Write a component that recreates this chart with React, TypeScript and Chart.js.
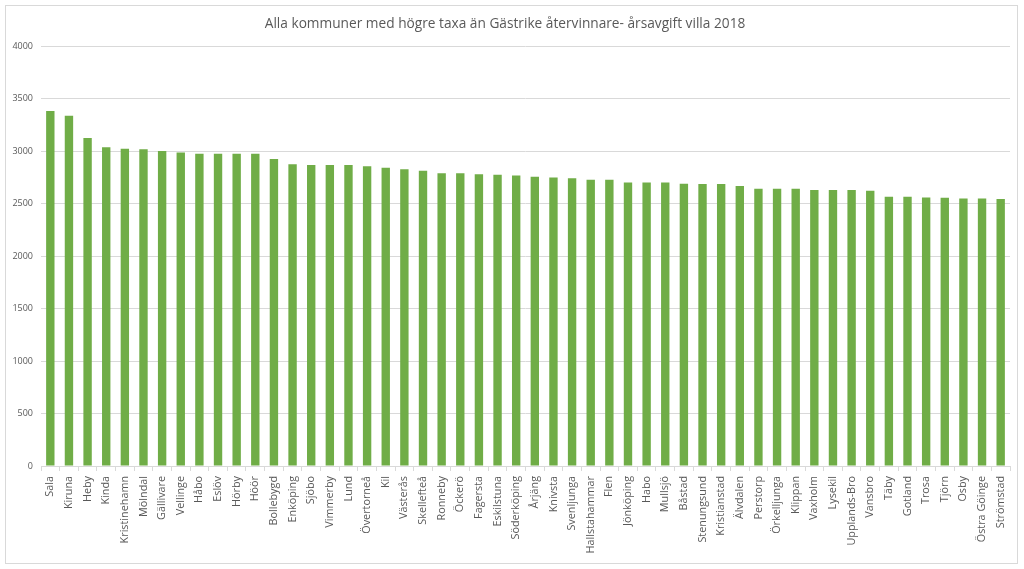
import React, { useEffect, useRef } from "react";
import { Chart, registerables } from "chart.js";

Chart.register(...registerables);

const categories: string[] = [
  "Sala", "Kiruna", "Heby", "Kinda", "Kristinehamn", "Mölndal", "Gällivare", "Vellinge",
  "Håbo", "Eslöv", "Hörby", "Höör", "Bollebygd", "Enköping", "Sjöbo", "Vimmerby", "Lund",
  "Övertorneå", "Kil", "Västerås", "Skellefteå", "Ronneby", "Öckerö", "Fagersta",
  "Eskilstuna", "Söderköping", "Årjäng", "Knivsta", "Svenljunga", "Hallstahammar", "Flen",
  "Jönköping", "Habo", "Mullsjö", "Båstad", "Stenungsund", "Kristianstad", "Älvdalen",
  "Perstorp", "Örkelljunga", "Klippan", "Vaxholm", "Lysekil", "Upplands-Bro", "Vansbro",
  "Täby", "Gotland", "Trosa", "Tjörn", "Osby", "Östra Göinge", "Strömstad",
];

const fees: number[] = [
  3385, 3340, 3127, 3038, 3025, 3019, 3003, 2990, 2978, 2978, 2978, 2978, 2927, 2876, 2870,
  2870, 2870, 2858, 2843, 2830, 2814, 2792, 2792, 2782, 2776, 2769, 2757, 2750, 2744, 2728,
  2728, 2702, 2702, 2702, 2690, 2688, 2688, 2669, 2644, 2644, 2644, 2631, 2631, 2631, 2625,
  2567, 2567, 2561, 2558, 2551, 2551, 2545,
];

const yTicks: number[] = [0, 500, 1000, 1500, 2000, 2500, 3000, 3500, 4000];

const title = "Alla kommuner med högre taxa än Gästrike återvinnare- årsavgift villa 2018";

export default function App() {
  const ref = useRef<HTMLCanvasElement | null>(null);

  useEffect(() => {
    if (!ref.current) return;
    const chart = new Chart(ref.current, {
      type: "bar",
      data: {
        labels: categories,
        datasets: [
          {
            label: "Årsavgift",
            data: fees,
            backgroundColor: "#70AD47",
            borderWidth: 0,
            categoryPercentage: 1,
            barPercentage: 0.45,
          },
        ],
      },
      options: {
        responsive: false,
        animation: false,
        devicePixelRatio: 1,
        layout: { padding: { left: 0, right: 14, top: 0, bottom: 0 } },
        plugins: {
          legend: { display: false },
          tooltip: { enabled: false },
          title: {
            display: true,
            text: title,
            color: "#595959",
            font: { family: "'Open Sans', sans-serif", size: 13.7, weight: "normal" },
            padding: { top: 16, bottom: 14 },
          },
        },
        scales: {
          x: {
            offset: true,
            grid: {
              offset: true,
              drawOnChartArea: false,
              drawTicks: true,
              tickLength: 5,
              color: "#d9d9d9",
            },
            border: { color: "#d9d9d9" },
            ticks: {
              autoSkip: false,
              minRotation: 90,
              maxRotation: 90,
              color: "#595959",
              padding: 5,
              font: { family: "'Open Sans', sans-serif", size: 10.8 },
            },
            afterFit: (scale: any) => {
              scale.height = 103;
            },
          },
          y: {
            min: 0,
            max: 4000,
            afterBuildTicks: (scale: any) => {
              scale.ticks = yTicks.map((v) => ({ value: v }));
            },
            grid: { color: "#d9d9d9", drawTicks: false },
            border: { display: false },
            ticks: {
              color: "#595959",
              padding: 8,
              font: { family: "'Open Sans', sans-serif", size: 9 },
              callback: (v: any) => String(v),
            },
            afterFit: (scale: any) => {
              scale.width = 41;
            },
          },
        },
      },
    });
    return () => chart.destroy();
  }, []);

  return (
    <div
      style={{
        position: "absolute",
        left: 0,
        top: 0,
        width: 1024,
        height: 569,
        background: "#ffffff",
      }}
    >
      <div
        style={{
          position: "absolute",
          left: 5,
          top: 5,
          width: 1011,
          height: 557,
          border: "1px solid #d9d9d9",
        }}
      />
      <canvas
        ref={ref}
        width={1024}
        height={569}
        style={{ position: "absolute", left: 0, top: 0, width: 1024, height: 569 }}
      />
    </div>
  );
}
